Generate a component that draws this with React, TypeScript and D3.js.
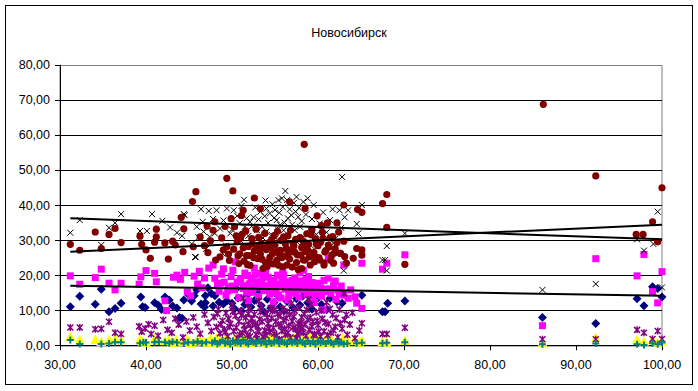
import React from "react";
import * as d3 from "d3";

const title = "Новосибирск";
const yTicks = [0, 10, 20, 30, 40, 50, 60, 70, 80];
const xTicks = [30, 40, 50, 60, 70, 80, 90, 100];

// Series values [x, y]
const navyDiamonds: [number, number][] = [
  [31.2,11.0],[32.3,14.0],[34.1,11.7],[34.8,16.0],[35.7,9.6],[36.4,10.5],[37.1,12.0],[39.4,13.8],[39.6,11.0],[39.9,10.8],
  [41.0,12.1],[41.4,11.5],[41.8,10.2],[42.2,13.8],[42.7,12.9],[43.1,11.2],[43.6,10.6],[45.0,14.3],[45.3,12.6],[46.4,11.8],
  [46.8,10.9],[47.2,16.4],[47.6,14.8],
  [48.0,14.1],[48.5,12.3],[49.0,11.8],[49.4,12.6],[50.0,12.0],[50.3,10.4],[50.7,13.5],[51.1,9.8],[51.5,11.6],[51.9,14.6],
  [52.2,10.9],[52.6,12.8],[53.0,15.3],[53.4,11.3],[53.8,9.4],[54.1,13.1],[54.5,10.6],[54.9,12.2],[55.3,14.2],[55.6,11.0],
  [56.0,9.9],[56.4,12.5],[56.8,15.6],[57.1,10.8],[57.5,13.3],[57.9,11.5],[58.2,14.0],[58.8,12.1],[59.3,10.3],[59.8,13.0],
  [60.4,11.6],[46.9,14.1],[46.9,12.1],[47.8,11.2],[45.6,14.1],[45.9,15.8],[44.4,12.9],[43.9,7.9],[44.2,7.7],[52.8,17.0],
  [54.3,16.4],[50.5,16.1],
  [58.5,17.2],[60.0,14.8],[61.4,13.4],[62.2,12.4],[62.8,12.0],[65.1,14.3],[67.8,9.6],[68.1,12.0],[70.1,12.6],[67.5,9.6],
  [61.0,10.1],[86.1,7.9],[92.3,6.2],[97.1,13.3],[97.9,11.3],[98.9,16.7],[99.5,16.2],[100.0,13.8]
];

const magentaSquares: [number, number][] = [
  [31.2,19.8],[32.3,17.4],[34.1,19.3],[34.8,21.7],[35.7,17.7],[36.4,15.8],[37.1,17.7],[39.2,17.4],[39.4,19.5],[40.0,21.3],
  [41.0,20.5],[41.2,18.1],[42.2,12.7],[43.2,19.4],[43.6,20.0],[44.0,18.8],[44.5,20.8],[44.8,15.2],[45.2,14.1],[45.6,19.7],
  [46.0,17.5],[46.5,16.4],[46.8,19.2],[47.3,22.0],
  [47.8,22.9],[48.0,19.1],[48.3,17.2],[48.5,15.4],[48.8,20.3],[49.1,18.0],[49.3,14.3],[49.6,16.6],[49.9,19.6],[50.1,21.4],
  [50.3,15.8],[50.6,17.9],[50.8,13.6],[51.0,19.0],[51.3,16.2],[51.5,20.6],[51.7,14.9],[52.0,17.5],[52.2,18.8],[52.4,15.1],
  [52.7,20.1],[52.9,16.9],[53.1,13.9],[53.3,20.5],[53.5,18.2],[53.7,15.6],[54.0,17.0],[54.2,19.4],[54.4,14.6],[54.6,16.3],
  [54.9,18.6],[55.1,15.0],[55.3,20.0],[55.5,17.3],[55.7,13.5],[56.0,20.0],[56.2,16.0],[56.4,18.1],[56.6,14.2],[56.9,17.6],
  [57.1,15.5],[57.3,19.2],[57.5,16.8],[57.8,13.8],[58.0,18.4],[58.2,15.9],[58.5,17.0],[58.7,14.5],[58.9,19.6],[59.1,16.4],
  [59.4,13.3],[59.7,16.7],[60.0,17.7],[60.2,15.2],[60.4,14.0],[60.6,10.1],[60.9,16.1],[61.2,19.1],[61.2,24.8],[61.5,14.8],
  [61.8,17.0],[62.1,13.1],[62.4,15.6],[62.7,16.9],[63.0,22.9],[63.0,14.3],[63.5,13.4],[63.8,15.8],[64.3,13.8],[64.5,12.0],
  [65.1,10.5],[65.1,23.4],[50.4,23.8],[49.0,21.8],[46.2,21.1],[52.6,22.0],[55.9,21.6],[57.9,20.7],[51.9,12.7],[54.8,12.4],
  [56.5,12.9],[59.6,12.2],[53.9,21.2],[58.3,21.4],[42.4,9.9],
  [50.0,16.9],[50.9,18.3],[51.4,17.0],[51.8,19.9],[52.3,16.1],[52.8,18.1],[53.2,16.6],[53.6,19.5],[54.1,15.8],[54.5,18.0],
  [55.0,16.7],[55.4,14.4],[55.8,18.9],[56.1,17.4],[56.7,16.2],[57.0,18.5],[57.4,14.8],[57.7,17.5],[58.1,16.8],[58.6,18.8],
  [59.0,15.0],[59.3,17.9],[59.8,14.6],[60.3,16.4],[60.7,18.5],[61.0,15.3],[61.6,16.0],[62.0,18.3],[62.5,14.7],[49.5,15.5],
  [48.7,17.7],
  [67.5,21.7],[68.0,23.4],[70.1,25.8],[86.1,5.6],[92.3,24.7],[97.1,19.8],[97.9,25.9],[98.9,15.3],[99.5,12.1],[100.0,21.0]
];

const yellowTriangles: [number, number][] = [
  [31.2,2.3],[32.3,1.4],[34.1,1.4],[34.8,0.8],[35.7,1.3],[36.4,1.6],[37.1,1.2],[39.3,1.6],[39.6,0.9],[40.0,0.6],
  [41.0,1.7],[41.3,1.1],[42.2,1.0],[42.6,1.3],[43.0,0.5],[43.5,1.2],[44.3,0.8],[44.8,1.5],[45.2,0.4],[45.8,0.9],
  [46.2,1.4],[46.7,1.0],[47.1,0.6],[47.5,1.8],
  [47.9,0.5],[48.2,1.9],[48.5,0.8],[48.8,1.3],[49.1,0.4],[49.4,2.2],[49.7,1.0],[50.0,0.6],[50.3,1.6],[50.6,0.9],
  [50.9,2.5],[51.2,0.3],[51.5,1.2],[51.8,0.7],[52.1,1.8],[52.4,0.5],[52.7,1.4],[53.0,2.1],[53.3,0.8],[53.6,1.1],
  [53.9,0.4],[54.2,1.7],[54.5,0.9],[54.8,2.4],[55.1,0.6],[55.4,1.3],[55.7,0.3],[56.0,1.9],[56.3,0.8],[56.6,1.5],
  [56.9,0.5],[57.2,2.0],[57.5,1.0],[57.8,0.4],[58.1,1.6],[58.4,0.7],[58.7,1.2],[59.0,2.3],[59.3,0.5],[59.6,1.4],
  [59.9,0.8],[60.2,1.8],[60.5,0.4],[60.8,1.1],[61.1,0.6],[61.4,1.7],[61.7,0.9],[62.0,0.3],[62.3,1.3],[62.6,0.7],
  [62.9,1.9],[63.2,0.5],[63.5,1.0],
  [64.2,1.2],[64.8,0.6],[65.1,1.1],[67.5,0.8],[68.0,0.6],[70.1,1.1],[86.1,0.6],[92.3,1.9],[97.1,1.4],[97.9,0.8],
  [98.9,1.3],[99.5,0.6],[100.0,0.9]
];

const blackCrosses: [number, number][] = [
  [31.2,32.1],[32.3,35.7],[34.8,28.6],[35.7,33.5],[36.4,34.9],[37.1,37.4],[39.3,32.6],[40.1,32.6],[40.7,37.4],[41.9,35.5],
  [42.8,33.6],[43.6,32.1],[44.2,31.2],[44.4,37.4],[45.8,25.1],[46.1,30.8],[46.6,35.2],[47.3,38.3],[47.8,36.0],
  [48.2,38.5],[49.4,39.0],[50.2,38.5],[44.5,37.1],[46.7,32.4],[47.4,30.9],[48.0,31.9],[56.2,44.0],[55.4,41.4],[55.8,41.9],
  [56.4,41.4],[57.5,42.3],[56.9,37.1],[57.4,38.1],[57.7,36.6],[53.3,38.1],[54.0,39.0],[54.4,37.6],[51.7,36.2],[52.1,35.2],
  [52.5,36.5],[50.9,34.8],[51.5,33.8],[52.9,32.8],[53.5,33.8],[54.0,32.4],[55.2,35.7],[55.6,34.3],[56.0,32.8],[56.5,36.2],
  [57.3,32.8],[57.9,33.8],[58.3,30.9],[45.9,33.8],[49.8,31.9],
  [49.0,35.6],[50.6,36.9],[51.1,39.7],[51.9,31.2],[52.7,39.3],[53.1,35.9],[53.8,36.8],[54.2,34.9],[54.7,40.2],[54.9,36.3],
  [55.0,38.6],[55.3,33.1],[55.9,39.4],[56.1,35.0],[56.7,38.8],[57.0,34.4],[57.2,40.6],[57.8,39.2],[58.1,35.4],[58.6,37.3],
  [59.0,33.2],[59.3,36.0],[59.8,31.6],[60.2,34.7],[60.6,37.9],[61.0,32.2],[61.4,35.7],[62.0,30.4],[60.0,29.5],[56.3,30.1],
  [53.6,30.6],[51.0,29.8],[49.3,28.4],[47.0,27.5],[45.3,28.9],[48.6,33.3],[55.5,37.8],[54.6,31.5],[52.3,33.9],[50.0,33.0],
  [58.8,41.9],[53.9,41.3],[51.4,41.5],[46.4,38.8],[48.9,26.2],[55.1,30.5],[57.6,29.3],[62.7,33.5],[61.8,29.1],[59.6,27.4],
  [56.1,26.9],[45.7,25.2],
  [58.3,40.9],[59.5,40.0],[61.7,38.8],[62.5,38.5],[63.5,38.5],[63.1,36.5],[64.5,34.6],[65.1,40.0],[64.7,31.9],[70.1,31.9],
  [62.8,48.0],[68.0,28.3],[67.5,24.3],[68.0,21.3],[86.1,15.8],[92.3,17.5],[97.1,30.2],[97.9,27.0],[99.0,28.9],[99.5,38.1],
  [100.0,16.5],[58.9,28.1],[63.0,21.3],[67.8,24.3]
];

const purpleStars: [number, number][] = [
  [31.2,5.1],[32.3,5.1],[34.1,4.6],[34.8,4.7],[35.7,6.7],[36.4,3.6],[37.1,3.2],[39.2,5.4],[39.5,3.9],[39.9,4.8],
  [40.3,6.0],[40.6,3.2],[41.0,5.6],[41.4,2.7],[42.0,7.2],[42.5,4.4],[43.0,3.6],[43.4,7.6],[43.8,5.9],[44.3,2.2],
  [44.7,6.8],[45.1,4.2],[45.5,7.9],[45.9,5.3],[46.3,3.3],[46.8,8.8],[47.2,6.4],[47.6,4.1],
  [47.9,8.1],[48.2,5.2],[48.4,10.3],[48.6,3.4],[48.9,7.0],[49.1,4.5],[49.3,9.2],[49.5,2.6],[49.8,6.1],[50.0,11.5],
  [50.2,4.0],[50.4,8.4],[50.6,2.1],[50.8,6.8],[51.0,9.8],[51.2,3.5],[51.4,5.7],[51.6,7.9],[51.8,2.9],[52.0,10.6],
  [52.2,4.8],[52.4,6.5],[52.6,8.8],[52.8,3.1],[53.0,5.4],[53.2,7.4],[53.4,11.0],[53.6,2.4],[53.8,4.3],[54.0,9.0],
  [54.2,6.2],[54.4,3.7],[54.6,7.7],[54.8,5.0],[55.0,10.1],[55.2,2.8],[55.4,6.0],[55.6,8.5],[55.8,4.1],[56.0,7.1],
  [56.2,3.0],[56.4,9.6],[56.6,5.5],[56.8,2.2],[57.0,6.9],[57.2,8.2],[57.4,4.6],[57.6,3.3],[57.8,10.8],[58.0,6.4],
  [58.2,5.1],[58.4,8.9],[58.6,2.7],[58.8,7.3],[59.0,4.4],[59.2,11.6],[59.4,6.7],[59.6,3.2],[59.8,9.4],[60.0,5.8],
  [60.3,2.5],[60.5,7.6],[60.7,4.0],[61.0,12.3],[61.2,6.1],[61.5,3.6],[61.7,8.7],[62.0,5.3],[62.3,2.3],[62.5,10.2],
  [62.8,4.7],[63.0,14.8],[63.1,7.2],[63.4,3.0],[63.7,5.9],[64.0,9.3],[64.3,2.0],[64.8,4.2],[65.1,6.3],[53.1,12.6],
  [56.9,11.9],[51.3,13.4],[58.9,13.1],[55.5,1.7],[52.9,1.8],[57.5,1.9],[49.7,5.3],[51.9,6.0],[54.7,9.7],[57.9,5.4],
  [49.2,3.8],[49.6,7.6],[50.1,9.6],[50.5,5.1],[50.9,3.0],[51.1,8.6],[51.5,4.4],[51.9,9.0],[52.1,2.5],[52.3,7.6],
  [52.7,5.9],[53.1,3.9],[53.3,9.5],[53.5,6.8],[53.9,2.9],[54.1,7.9],[54.3,4.9],[54.5,10.6],[54.9,3.3],[55.1,6.8],
  [55.3,8.9],[55.7,5.5],[55.9,10.5],[56.1,4.8],[56.3,7.7],[56.5,3.6],[56.7,8.8],[57.1,5.1],[57.3,9.9],[57.7,6.2],
  [57.9,3.9],[58.1,8.0],[58.3,3.6],[58.5,6.0],[58.7,10.1],[59.1,7.9],[59.3,5.3],[59.5,2.9],[59.9,7.0],[60.1,3.9],
  [60.4,9.9],[60.8,6.5],[61.1,2.9],[61.4,10.4],[61.8,4.3],[62.1,7.8],[62.6,6.3],[63.3,8.7],[48.7,6.0],[48.3,9.0],
  [67.5,3.2],[68.0,3.2],[70.1,5.0],[86.1,1.7],[92.3,1.7],[97.1,4.4],[97.9,3.6],[98.9,1.8],[99.5,4.1],[100.0,1.8]
];

const redCircles: [number, number][] = [
  [31.2,28.8],[32.3,27.1],[34.1,32.3],[34.8,27.6],[35.7,31.6],[36.4,33.3],[37.1,29.3],[39.3,31.1],[39.5,28.8],[40.0,27.2],
  [40.5,24.8],[41.2,33.1],[41.2,30.9],[41.0,29.4],[42.6,24.6],[42.2,29.2],[43.1,29.7],[43.4,28.6],[44.1,36.5],[44.4,33.2],
  [44.3,26.7],[45.5,28.1],[45.4,41.0],[45.8,43.8],[46.3,30.9],[46.8,28.4],[47.1,34.0],[48.0,35.2],[47.8,32.8],[48.1,24.3],
  [48.6,25.2],[49.0,27.2],[49.4,28.1],[49.4,47.6],[50.1,44.0],
  [50.3,33.8],[50.6,29.5],[50.9,26.1],[51.2,31.7],[51.4,24.0],[51.7,25.6],[51.9,28.2],[52.1,22.8],[52.3,30.4],[52.6,26.9],
  [52.8,33.1],[53.0,24.7],[53.2,27.0],[53.4,29.0],[53.6,21.9],[53.8,31.9],[54.0,27.3],[54.2,23.8],[54.4,25.1],[54.6,30.0],
  [54.8,23.2],[55.0,28.6],[55.1,26.7],[55.3,32.5],[55.5,26.0],[55.7,29.9],[55.9,22.4],[56.1,25.4],[56.3,27.7],[56.5,31.2],
  [56.7,24.6],[56.9,27.2],[57.1,29.1],[57.3,26.5],[57.5,23.6],[57.7,21.6],[57.9,30.7],[58.1,27.9],[58.3,29.6],[58.5,24.3],
  [58.7,31.8],[58.9,28.8],[59.1,22.9],[59.3,33.0],[59.5,26.4],[59.7,30.3],[59.9,36.9],[60.1,25.0],[60.3,29.4],[60.5,32.2],
  [60.7,23.5],[60.9,27.0],[61.1,34.9],[61.3,28.0],[61.5,24.2],[61.7,31.0],[61.9,26.3],[62.2,34.9],[62.6,26.2],[63.0,29.7],
  [63.1,25.3],[63.3,23.4],[63.0,40.0],[64.1,24.8],[64.5,27.6],[64.6,38.7],[65.1,37.9],[65.1,25.7],[65.1,27.2],[58.5,39.0],
  [61.2,28.6],[58.5,26.7],[58.3,24.3],[58.1,21.9],[59.7,25.3],[60.2,24.3],[60.7,22.9],[61.8,23.4],[62.6,26.2],[52.6,42.0],
  [50.2,27.4],[50.8,23.3],[51.3,27.8],[51.6,32.6],[52.0,25.6],[52.4,28.9],[52.9,28.1],[53.3,26.0],[53.5,24.5],[53.9,23.5],
  [54.3,29.3],[54.5,27.9],[54.9,31.3],[55.2,24.2],[55.6,27.1],[56.0,30.9],[56.4,22.9],[56.8,32.8],[57.2,28.3],[57.6,25.8],
  [58.0,25.7],[58.4,28.0],[58.8,27.0],[59.2,31.5],[59.6,23.8],[60.0,28.4],[60.4,34.1],[60.8,26.6],[61.4,30.6],[62.0,27.6],
  [62.4,32.3],[48.8,30.6],[49.2,33.9],[49.6,26.0],[49.9,36.1],[50.5,31.2],[51.1,37.0],[47.5,29.8],[47.2,26.4],[56.7,40.9],
  [53.3,39.0],[51.3,38.5],
  [50.7,25.5],[51.8,23.0],[52.5,25.0],[53.7,28.4],[54.1,22.5],[55.4,22.8],[56.2,29.0],[57.0,22.3],[57.4,30.2],[59.0,25.2],
  [59.8,28.9],[60.6,30.5],[61.6,25.7],[62.2,29.3],[55.8,25.0],[53.1,30.8],[51.0,30.6],[49.7,24.2],[54.7,26.1],[56.6,26.3],
  [67.5,40.4],[68.0,43.0],[68.0,33.6],[70.1,23.1],[86.2,68.7],[92.3,48.3],[97.0,31.6],[97.8,31.6],[98.9,35.2],[100.0,44.9],
  [99.5,29.5],[58.4,57.3]
];

const tealPluses: [number, number][] = [
  [31.2,1.5],[32.3,0.4],[34.8,0.4],[35.7,0.5],[36.4,0.9],[37.1,0.9],[39.3,0.6],[39.7,0.9],[40.0,0.8],[41.0,0.9],
  [41.5,1.0],[42.2,0.9],[42.7,0.6],[43.1,1.0],[43.6,0.8],[44.4,0.5],[44.9,0.9],[45.5,0.7],[46.0,1.1],[46.5,0.6],[47.0,0.9],
  [47.7,0.7],[48.0,1.2],[48.3,0.4],[48.6,0.9],[48.9,1.4],[49.2,0.6],[49.5,1.0],[49.8,0.3],[50.1,1.3],[50.4,0.7],
  [50.7,1.1],[51.0,0.5],[51.3,1.5],[51.6,0.8],[51.9,0.4],[52.2,1.2],[52.5,0.9],[52.8,0.5],[53.1,1.4],[53.4,0.7],
  [53.7,1.0],[54.0,0.3],[54.3,1.2],[54.6,0.6],[54.9,0.9],[55.2,1.5],[55.5,0.5],[55.8,1.1],[56.1,0.8],[56.4,0.4],
  [56.7,1.3],[57.0,0.7],[57.3,1.0],[57.6,0.5],[57.9,1.4],[58.2,0.8],[58.5,0.4],[58.8,1.2],[59.1,0.6],[59.4,1.0],
  [59.7,0.3],[60.0,1.3],[60.3,0.7],[60.6,1.0],[60.9,0.5],[61.2,1.2],[61.5,0.8],[61.8,0.4],[62.1,1.1],[62.4,0.6],
  [62.7,0.9],[63.0,0.4],
  [63.4,0.5],[64.5,0.6],[65.1,0.7],[67.5,0.6],[68.0,0.7],[70.1,0.9],[86.1,0.3],[92.3,0.5],[97.1,0.3],[97.9,0.1],
  [98.9,0.6],[99.5,0.3],[100.0,0.8]
];

// Linear trend lines: value at x start / x end
const trendX = [31.2, 100];
const trendCrosses = [36.2, 30.2];
const trendCircles = [26.7, 34.4];
const trendSquares = [17.0, 14.1];

const W = 698;
const H = 391;
const font = "Arial, 'Liberation Sans', sans-serif";

export default function App() {
  const x = d3.scaleLinear().domain([30, 100]).range([60, 662]);
  const y = d3.scaleLinear().domain([0, 80]).range([345.3, 64.7]);
  const line = d3.line<[number, number]>().x((d) => x(d[0])).y((d) => y(d[1]));

  const trends = [trendCrosses, trendCircles, trendSquares].map((t) =>
    line(trendX.map((xv, i) => [xv, t[i]] as [number, number]))
  );

  return (
    <svg
      width={W}
      height={H}
      style={{ position: "absolute", left: 0, top: 0, background: "#fff" }}
      fontFamily={font}
    >
      <rect x={0} y={0} width={W} height={H} fill="#fff" />
      <rect x={5.5} y={5.5} width={687} height={379} fill="none" stroke="#000" strokeWidth={1} />
      <text x={349} y={37} fontSize={12.5} textAnchor="middle" fill="#000">
        {title}
      </text>

      {/* plot area border (gray) */}
      <rect x={60} y={Math.round(y(80)) + 0.5} width={602} height={y(0) - y(80)} fill="none" stroke="#808080" strokeWidth={1} />

      {/* gridlines */}
      {yTicks.filter((t) => t > 0 && t < 80).map((t) => (
        <line key={"g" + t} x1={60} x2={662} y1={Math.round(y(t)) + 0.5} y2={Math.round(y(t)) + 0.5} stroke="#000" strokeWidth={1} />
      ))}

      {/* y axis */}
      <line x1={60.5} x2={60.5} y1={y(80)} y2={y(0)} stroke="#000" />
      {yTicks.map((t) => (
        <g key={"yt" + t}>
          <line x1={55} x2={60} y1={Math.round(y(t)) + 0.5} y2={Math.round(y(t)) + 0.5} stroke="#000" />
          <text x={50} y={y(t) + 4.5} fontSize={12.5} textAnchor="end" fill="#000">
            {d3.format(".2f")(t).replace(".", ",")}
          </text>
        </g>
      ))}

      {/* x axis */}
      <line x1={60} x2={662} y1={Math.round(y(0)) + 0.5} y2={Math.round(y(0)) + 0.5} stroke="#000" />
      {xTicks.map((t) => (
        <g key={"xt" + t}>
          <line x1={Math.round(x(t)) + 0.5} x2={Math.round(x(t)) + 0.5} y1={y(0)} y2={y(0) + 5} stroke="#000" />
          <text x={x(t)} y={368.5} fontSize={12.5} textAnchor="middle" fill="#000">
            {d3.format(".2f")(t).replace(".", ",")}
          </text>
        </g>
      ))}

      {/* series */}
      <g fill="#000080">
        {navyDiamonds.map((d, i) => (
          <path key={i} d="M0,-4.5L4.5,0L0,4.5L-4.5,0Z" transform={`translate(${x(d[0])},${y(d[1])})`} />
        ))}
      </g>
      <g fill="#FF00FF">
        {magentaSquares.map((d, i) => (
          <rect key={i} x={x(d[0]) - 3.5} y={y(d[1]) - 3.5} width={7} height={7} />
        ))}
      </g>
      <g fill="#FFFF00">
        {yellowTriangles.map((d, i) => (
          <path key={i} d="M0,-6L5,3.5L-5,3.5Z" transform={`translate(${x(d[0])},${y(d[1])})`} />
        ))}
      </g>
      <g stroke="#000" strokeWidth={1} fill="none">
        {blackCrosses.map((d, i) => (
          <path key={i} d="M-3,-3L3,3M-3,3L3,-3" transform={`translate(${x(d[0])},${y(d[1])})`} />
        ))}
      </g>
      <g stroke="#800080" strokeWidth={1.5} fill="none">
        {purpleStars.map((d, i) => (
          <path key={i} d="M-3,-3L3,3M-3,3L3,-3M0,-3.5L0,3.5" transform={`translate(${x(d[0])},${y(d[1])})`} />
        ))}
      </g>
      <g fill="#800000">
        {redCircles.map((d, i) => (
          <circle key={i} cx={x(d[0])} cy={y(d[1])} r={3.6} />
        ))}
      </g>
      <g stroke="#008080" strokeWidth={2} fill="none">
        {tealPluses.map((d, i) => (
          <path key={i} d="M-3.5,0L3.5,0M0,-3.5L0,3.5" transform={`translate(${x(d[0])},${y(d[1])})`} />
        ))}
      </g>

      {/* trend lines */}
      {trends.map((p, i) => (
        <path key={"tr" + i} d={p || ""} stroke="#000" strokeWidth={2} fill="none" />
      ))}
    </svg>
  );
}
